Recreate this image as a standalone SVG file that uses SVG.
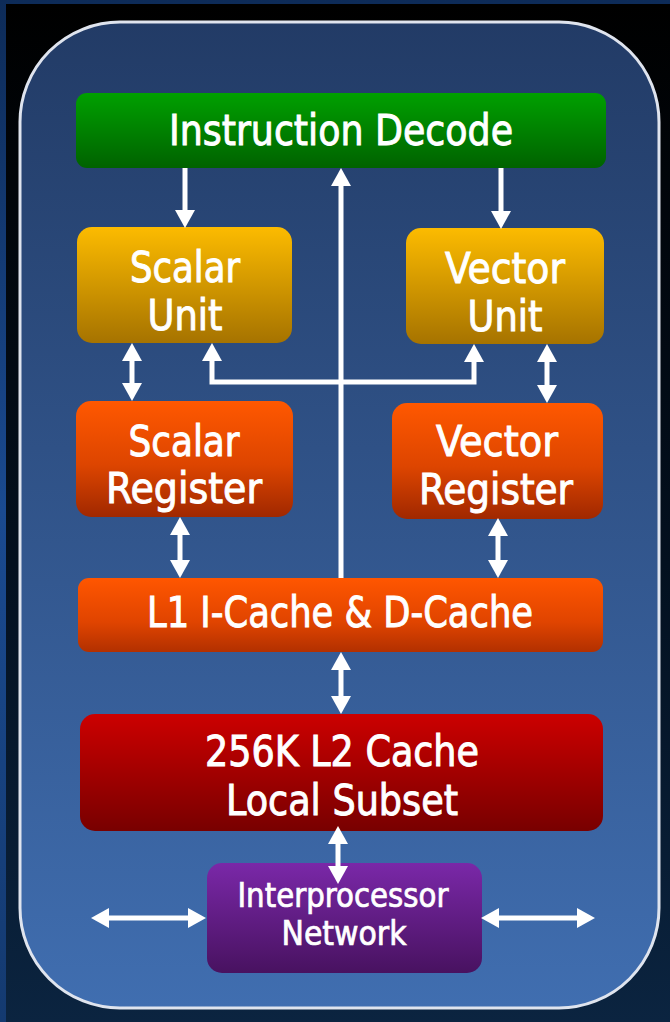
<svg xmlns="http://www.w3.org/2000/svg" width="670" height="1022" viewBox="0 0 670 1022">
<defs>
<linearGradient id="bgG" x1="0" y1="0" x2="0" y2="1"><stop offset="0" stop-color="#000000"/><stop offset="0.55" stop-color="#03101f"/><stop offset="1" stop-color="#0b2440"/></linearGradient>
<linearGradient id="edgeG" x1="0" y1="0" x2="0" y2="1"><stop offset="0" stop-color="#0d2b58"/><stop offset="0.5" stop-color="#1a4a90"/><stop offset="1" stop-color="#143a70"/></linearGradient>
<linearGradient id="panelG" x1="0" y1="0" x2="0" y2="1"><stop offset="0" stop-color="#223b66"/><stop offset="1" stop-color="#406eb0"/></linearGradient>
<linearGradient id="greenG" x1="0" y1="0" x2="0" y2="1"><stop offset="0" stop-color="#00a000"/><stop offset="1" stop-color="#006200"/></linearGradient>
<linearGradient id="yellowG" x1="0" y1="0" x2="0" y2="1"><stop offset="0" stop-color="#fcbb00"/><stop offset="1" stop-color="#a67300"/></linearGradient>
<linearGradient id="orangeG" x1="0" y1="0" x2="0" y2="1"><stop offset="0" stop-color="#ff5800"/><stop offset="0.55" stop-color="#dd4500"/><stop offset="1" stop-color="#a02800"/></linearGradient>
<linearGradient id="l1G" x1="0" y1="0" x2="0" y2="1"><stop offset="0" stop-color="#ff5600"/><stop offset="0.6" stop-color="#e04400"/><stop offset="1" stop-color="#b23000"/></linearGradient>
<linearGradient id="redG" x1="0" y1="0" x2="0" y2="1"><stop offset="0" stop-color="#cc0000"/><stop offset="1" stop-color="#780000"/></linearGradient>
<linearGradient id="purpleG" x1="0" y1="0" x2="0" y2="1"><stop offset="0" stop-color="#7a28a8"/><stop offset="1" stop-color="#481260"/></linearGradient>
<marker id="ah" viewBox="0 0 18 20" markerUnits="userSpaceOnUse" markerWidth="18" markerHeight="20" refX="2" refY="10" orient="auto-start-reverse"><path d="M0,0 L18,10 L0,20 z" fill="#ffffff"/></marker>
</defs>
<style>
.lbl{font-family:"Liberation Sans Narrow","DejaVu Sans Condensed","Liberation Sans",sans-serif;fill:#ffffff;stroke:#ffffff;stroke-width:0.9;text-anchor:middle;font-size:42px}
.small{font-size:33px;stroke-width:0.7}
.big{font-size:43px}
.conn{fill:none;stroke:#ffffff;stroke-width:5}
</style>
<rect x="0" y="0" width="670" height="1022" fill="url(#edgeG)"/>
<rect x="6" y="4" width="664" height="1018" fill="url(#bgG)"/>
<rect id="panel" x="20" y="22" width="639" height="986" rx="100" ry="100" fill="url(#panelG)" stroke="#dfe4ee" stroke-width="3"/>

<g id="instruction-decode">
<rect x="76" y="93" width="530" height="75" rx="11" fill="url(#greenG)"/>
<text class="lbl big" x="341" y="145" textLength="344" lengthAdjust="spacingAndGlyphs">Instruction Decode</text>
</g>
<g id="scalar-unit">
<rect x="77" y="227" width="215" height="116" rx="15" fill="url(#yellowG)"/>
<text class="lbl" x="185" y="282" textLength="110" lengthAdjust="spacingAndGlyphs">Scalar</text>
<text class="lbl" x="185" y="330" textLength="75" lengthAdjust="spacingAndGlyphs">Unit</text>
</g>
<g id="vector-unit">
<rect x="406" y="228" width="198" height="116" rx="15" fill="url(#yellowG)"/>
<text class="lbl" x="505" y="283" textLength="120" lengthAdjust="spacingAndGlyphs">Vector</text>
<text class="lbl" x="505" y="331" textLength="75" lengthAdjust="spacingAndGlyphs">Unit</text>
</g>
<g id="scalar-register">
<rect x="76" y="401" width="217" height="116" rx="15" fill="url(#orangeG)"/>
<text class="lbl" x="184" y="456" textLength="111" lengthAdjust="spacingAndGlyphs">Scalar</text>
<text class="lbl" x="184" y="503" textLength="156" lengthAdjust="spacingAndGlyphs">Register</text>
</g>
<g id="vector-register">
<rect x="392" y="403" width="211" height="116" rx="15" fill="url(#orangeG)"/>
<text class="lbl" x="497" y="456" textLength="122" lengthAdjust="spacingAndGlyphs">Vector</text>
<text class="lbl" x="496" y="504" textLength="154" lengthAdjust="spacingAndGlyphs">Register</text>
</g>
<g id="l1-cache">
<rect x="78" y="578" width="525" height="74" rx="11" fill="url(#l1G)"/>
<text class="lbl" x="340" y="627" textLength="386" lengthAdjust="spacingAndGlyphs">L1 I-Cache &amp; D-Cache</text>
</g>
<g id="l2-cache">
<rect x="80" y="714" width="523" height="117" rx="15" fill="url(#redG)"/>
<text class="lbl" x="342" y="766" textLength="274" lengthAdjust="spacingAndGlyphs">256K L2 Cache</text>
<text class="lbl" x="342" y="815" textLength="232" lengthAdjust="spacingAndGlyphs">Local Subset</text>
</g>
<g id="interprocessor-network">
<rect x="207" y="863" width="275" height="110" rx="15" fill="url(#purpleG)"/>
<text class="lbl small" x="343" y="907" textLength="211" lengthAdjust="spacingAndGlyphs">Interprocessor</text>
<text class="lbl small" x="344" y="945" textLength="125" lengthAdjust="spacingAndGlyphs">Network</text>
</g>

<g id="connectors">
<line class="conn" x1="185" y1="168" x2="185" y2="212" marker-end="url(#ah)"/>
<line class="conn" x1="501" y1="168" x2="501" y2="213" marker-end="url(#ah)"/>
<line class="conn" x1="341" y1="578" x2="341" y2="184" marker-end="url(#ah)"/>
<path class="conn" d="M341,382 H212 V359" marker-end="url(#ah)"/>
<path class="conn" d="M341,382 H474 V360" marker-end="url(#ah)"/>
<line class="conn" x1="132" y1="359" x2="132" y2="385" marker-start="url(#ah)" marker-end="url(#ah)"/>
<line class="conn" x1="547" y1="360" x2="547" y2="387" marker-start="url(#ah)" marker-end="url(#ah)"/>
<line class="conn" x1="180" y1="533" x2="180" y2="562" marker-start="url(#ah)" marker-end="url(#ah)"/>
<line class="conn" x1="498" y1="534" x2="498" y2="562" marker-start="url(#ah)" marker-end="url(#ah)"/>
<line class="conn" x1="341" y1="668" x2="341" y2="698" marker-start="url(#ah)" marker-end="url(#ah)"/>
<line class="conn" x1="338" y1="842" x2="338" y2="868" marker-start="url(#ah)" marker-end="url(#ah)"/>
<line class="conn" x1="107" y1="918" x2="190" y2="918" marker-start="url(#ah)" marker-end="url(#ah)"/>
<line class="conn" x1="497" y1="918" x2="579" y2="918" marker-start="url(#ah)" marker-end="url(#ah)"/>
</g>
</svg>
